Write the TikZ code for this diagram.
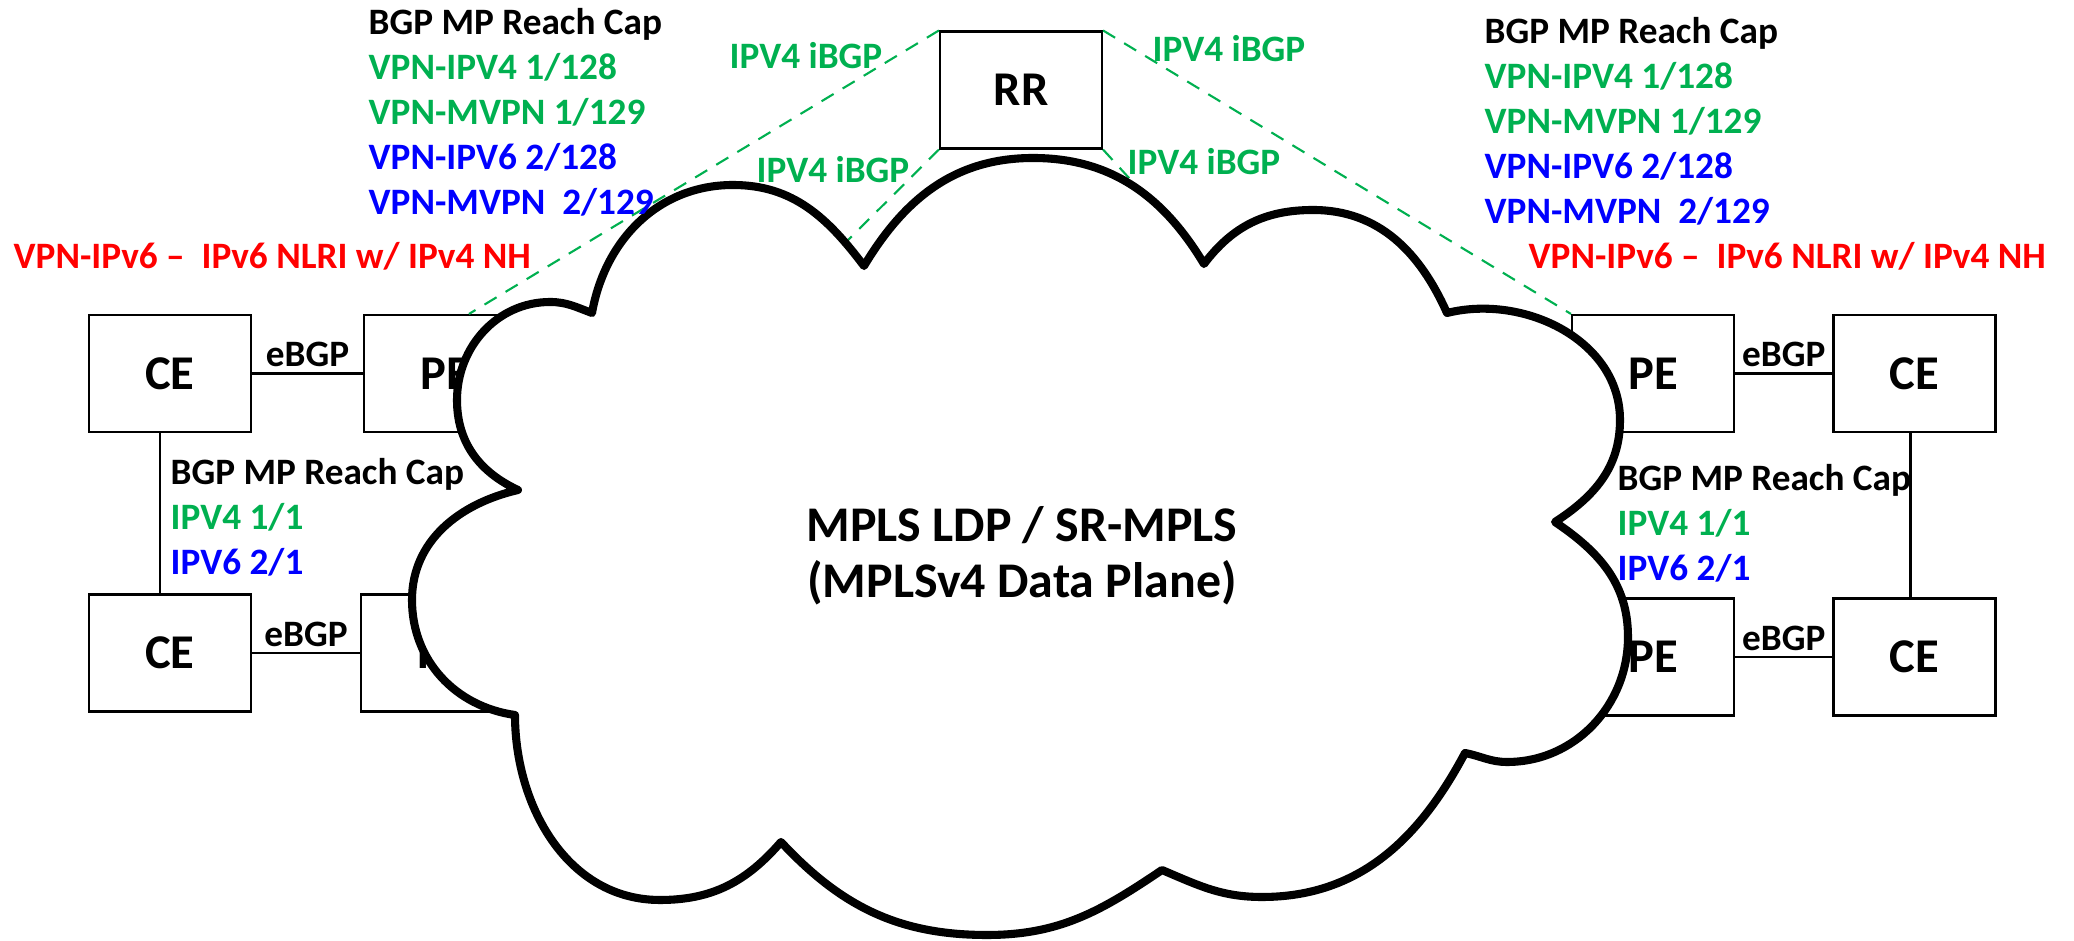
\documentclass[tikz,border=0pt]{standalone}
\usepackage{fontspec}
\setmainfont{Carlito}
\usetikzlibrary{calc}
\definecolor{ipgreen}{HTML}{00B050}
\definecolor{ipblue}{HTML}{0000FF}
\definecolor{ipred}{HTML}{FF0000}

\begin{document}
\begin{tikzpicture}[
  router/.style={draw, line width=0.6pt, fill=white, minimum width=1.62cm, minimum height=1.17cm, inner sep=0pt, font=\fontsize{13.8}{16}\selectfont\bfseries},
  captxt/.style={inner sep=0pt, align=left, font=\fontsize{10.6}{12.76}\selectfont\bfseries},
  wire/.style={line width=0.6pt},
  ibgp/.style={draw=ipgreen, line width=0.6pt, dash pattern=on 4pt off 3pt},
  cloudline/.style={line width=2.3pt, line join=round, fill=white}
]

\useasboundingbox (0,0) rectangle (20.74,9.41);

% routers
\node[router] (ce1) at (1.70,5.675) {CE};
\node[router] (pe1) at (4.45,5.675) {PE};
\node[router] (ce2) at (1.70,2.88) {CE};
\node[router] (pe2) at (4.42,2.88) {PE};
\node[router] (pe3) at (16.53,5.675) {PE};
\node[router] (ce3) at (19.145,5.675) {CE};
\node[router] (pe4) at (16.53,2.84) {PE};
\node[router] (ce4) at (19.145,2.84) {CE};
\node[router] (rr) at (10.21,8.51) {RR};

% eBGP sessions
\draw[wire] (ce1) -- (pe1) node[captxt, midway, above, inner sep=1.5pt] {eBGP};
\draw[wire] (ce2) -- (pe2) node[captxt, midway, above, inner sep=1.5pt] {eBGP};
\draw[wire] (pe3) -- (ce3) node[captxt, midway, above, inner sep=1.5pt] {eBGP};
\draw[wire] (pe4) -- (ce4) node[captxt, midway, above, inner sep=1.5pt] {eBGP};
\draw[wire] ([xshift=-1mm]ce1.south) -- ([xshift=-1mm]ce2.north);
\draw[wire] ([xshift=-0.4mm]ce3.south) -- ([xshift=-0.4mm]ce4.north);

% iBGP to the RR
\coordinate (hidA) at (8.20,6.73);
\coordinate (hidB) at (11.60,7.29);
\draw[ibgp] (rr.north west) -- ([xshift=2.4mm]pe1.north);
\draw[ibgp] (rr.south west) -- (hidA);
\draw[ibgp] (rr.north east) -- (pe3.north west);
\draw[ibgp] (rr.south east) -- (hidB);
\node[captxt, text=ipgreen] (ibA) at (8.06,8.85) {IPV4 iBGP};
\node[captxt, text=ipgreen] (ibB) at (8.33,7.71) {IPV4 iBGP};
\node[captxt, text=ipgreen] (ibC) at (12.29,8.92) {IPV4 iBGP};
\node[captxt, text=ipgreen] (ibD) at (12.04,7.79) {IPV4 iBGP};

% cloud
\coordinate (k1) at (5.18,4.51);
\coordinate (k2) at (5.92,6.28);
\coordinate (k3) at (8.64,6.75);
\coordinate (k4) at (12.04,6.77);
\coordinate (k5) at (14.47,6.28);
\coordinate (k6) at (15.55,4.19);
\coordinate (k7) at (14.65,1.88);
\coordinate (k8) at (11.62,0.71);
\coordinate (k9) at (7.81,0.99);
\coordinate (k10) at (5.15,2.26);
\draw[cloudline] (k1) to[out=155,in=270] (4.57,5.41) to[out=90,in=180] (5.50,6.39) to[out=0,in=160] (k2)
  to[out=80,in=180] (7.33,7.56) to[out=0,in=127] (k3)
  to[out=59,in=180] (10.33,7.83) to[out=0,in=121] (k4)
  to[out=53,in=180] (13.13,7.31) to[out=0,in=114] (k5)
  to[out=14,in=90] (16.20,5.21) to[out=270,in=33] (k6)
  to[out=-34,in=90] (16.28,3.04) to[out=270,in=0] (15.07,1.79) to[out=180,in=-11] (k7)
  to[out=242,in=0] (12.62,0.44) to[out=180,in=-23] (k8)
  to[out=214,in=0] (9.87,0.06) to[out=180,in=-47] (k9)
  to[out=229,in=0] (6.60,0.41) to[out=180,in=270] (k10)
  to[out=172,in=270] (4.12,3.41) to[out=90,in=193] (k1) -- cycle;
\node[font=\fontsize{14.2}{15.9}\selectfont\bfseries, align=center] (core) at (10.22,3.85) {MPLS LDP / SR-MPLS\\(MPLSv4 Data Plane)};

% capabilities
\node[captxt, anchor=north west] (capA) at (3.68,9.33) {BGP MP Reach Cap\\
  \textcolor{ipgreen}{VPN-IPV4 1/128}\\
  \textcolor{ipgreen}{VPN-MVPN 1/129}\\
  \textcolor{ipblue}{VPN-IPV6 2/128}\\
  \textcolor{ipblue}{VPN-MVPN~~2/129}};
\node[captxt, anchor=north west] (capB) at (14.84,9.24) {BGP MP Reach Cap\\
  \textcolor{ipgreen}{VPN-IPV4 1/128}\\
  \textcolor{ipgreen}{VPN-MVPN 1/129}\\
  \textcolor{ipblue}{VPN-IPV6 2/128}\\
  \textcolor{ipblue}{VPN-MVPN~~2/129}};
\node[captxt, anchor=base west, text=ipred] (nhA) at (0.13,6.72) {VPN-IPv6 --~~IPv6 NLRI w/ IPv4 NH};
\node[captxt, anchor=base west, text=ipred] (nhB) at (15.28,6.72) {VPN-IPv6 --~~IPv6 NLRI w/ IPv4 NH};
\node[captxt, anchor=north west] (capC) at (1.70,4.83) {BGP MP Reach Cap\\
  \textcolor{ipgreen}{IPV4 1/1}\\
  \textcolor{ipblue}{IPV6 2/1}};
\node[captxt, anchor=north west] (capD) at (16.17,4.77) {BGP MP Reach Cap\\
  \textcolor{ipgreen}{IPV4 1/1}\\
  \textcolor{ipblue}{IPV6 2/1}};

\end{tikzpicture}
\end{document}
